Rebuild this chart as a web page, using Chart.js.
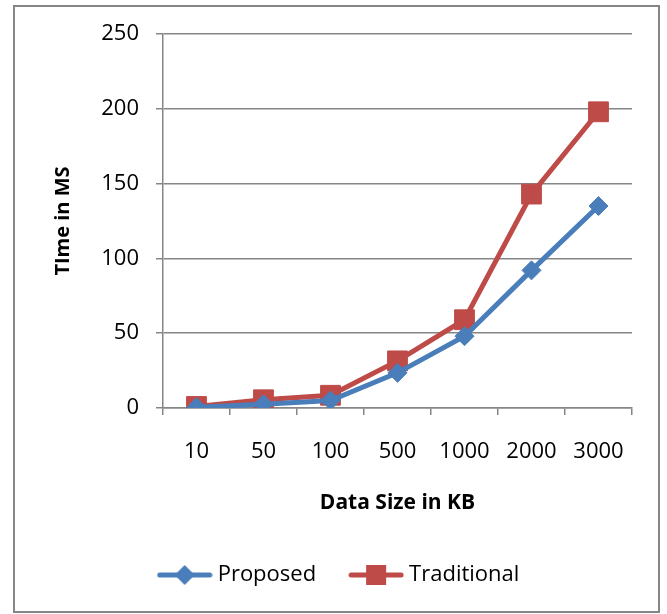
<!DOCTYPE html>
<html>
<head>
<meta charset="utf-8">
<script src="https://cdn.jsdelivr.net/npm/chart.js@4.4.1/dist/chart.umd.min.js"></script>
<style>
  html, body { margin: 0; padding: 0; background: #fff; }
  #wrap { width: 667px; height: 614px; }
</style>
</head>
<body>
<div id="wrap"><canvas id="chart" width="667" height="614"></canvas></div>
<script>
// data
const sizes = ["10", "50", "100", "500", "1000", "2000", "3000"];
const proposed = [0.5, 2.5, 5, 23.5, 48, 92, 135];
const traditional = [1, 5.5, 8.5, 31.5, 59, 143, 198];
const yTicks = [0, 50, 100, 150, 200, 250];

const blue = "#4a7ebb", red = "#be4b48";
const gridCol = "#868686";

// legend symbols: line with marker in the middle, like excel
function legendSymbol(color, kind) {
  const c = document.createElement("canvas");
  c.width = 56; c.height = 22;
  const g = c.getContext("2d");
  g.strokeStyle = color; g.lineWidth = 5; g.lineCap = "round";
  g.beginPath(); g.moveTo(3, 11); g.lineTo(53, 11); g.stroke();
  g.fillStyle = color;
  if (kind === "diamond") {
    g.beginPath(); g.moveTo(28, 1); g.lineTo(38, 11); g.lineTo(28, 21); g.lineTo(18, 11); g.closePath(); g.fill();
  } else {
    g.fillRect(18, 1, 20, 20);
  }
  return c;
}
const symbols = [legendSymbol(blue, "diamond"), legendSymbol(red, "square")];

const frame = {
  id: "frame",
  beforeDraw(chart) {
    const ctx = chart.ctx;
    ctx.save();
    ctx.fillStyle = "#fff";
    ctx.fillRect(0, 0, chart.width, chart.height);
    ctx.strokeStyle = gridCol;
    ctx.lineWidth = 2;
    ctx.strokeRect(14, 6, 645, 606);
    ctx.restore();
  }
};

new Chart(document.getElementById("chart"), {
  type: "line",
  data: {
    labels: sizes,
    datasets: [{
      label: "Proposed",
      data: proposed,
      borderColor: blue,
      backgroundColor: blue,
      borderWidth: 5,
      pointStyle: "rectRot",
      pointRadius: 9.5,
      pointBorderWidth: 1,
      tension: 0
    }, {
      label: "Traditional",
      data: traditional,
      borderColor: red,
      backgroundColor: red,
      borderWidth: 5,
      pointStyle: "rect",
      pointRadius: 14,
      pointBorderWidth: 1,
      tension: 0
    }]
  },
  options: {
    responsive: false,
    animation: false,
    layout: { padding: { left: 50, top: 34, right: 35, bottom: 18 } },
    plugins: {
      tooltip: { enabled: false },
      legend: {
        position: "bottom",
        labels: {
          usePointStyle: true,
          pointStyleWidth: 44,
          padding: 38,
          color: "#000",
          font: { family: "Open Sans", size: 22 },
          generateLabels(chart) {
            const items = Chart.defaults.plugins.legend.labels.generateLabels(chart);
            items.forEach((it, i) => { it.pointStyle = symbols[i]; });
            return items;
          }
        }
      }
    },
    scales: {
      x: {
        offset: true,
        afterFit(s) { s.height = 118; },
        grid: { offset: true, drawOnChartArea: false, color: gridCol, lineWidth: 1.5, tickLength: 7 },
        border: { color: gridCol, width: 1.5 },
        ticks: { color: "#000", padding: 24, font: { family: "Open Sans", size: 22 } },
        title: { display: true, text: "Data Size in KB", color: "#000",
          padding: { top: 0, bottom: 10 }, font: { family: "Open Sans", size: 21, weight: "bold" } }
      },
      y: {
        min: 0, max: 250,
        afterFit(s) { s.width = 113; },
        afterBuildTicks(s) { s.ticks = yTicks.map(v => ({ value: v })); },
        grid: { color: gridCol, lineWidth: 1.5, tickLength: 7 },
        border: { color: gridCol, width: 1.5 },
        ticks: { color: "#000", padding: 17, font: { family: "Open Sans", size: 22 } },
        title: { display: true, text: "TIme in MS", color: "#000",
          padding: { top: 1, bottom: 0 }, font: { family: "Open Sans", size: 20, weight: "bold" } }
      }
    }
  },
  plugins: [frame]
});
</script>
</body>
</html>
